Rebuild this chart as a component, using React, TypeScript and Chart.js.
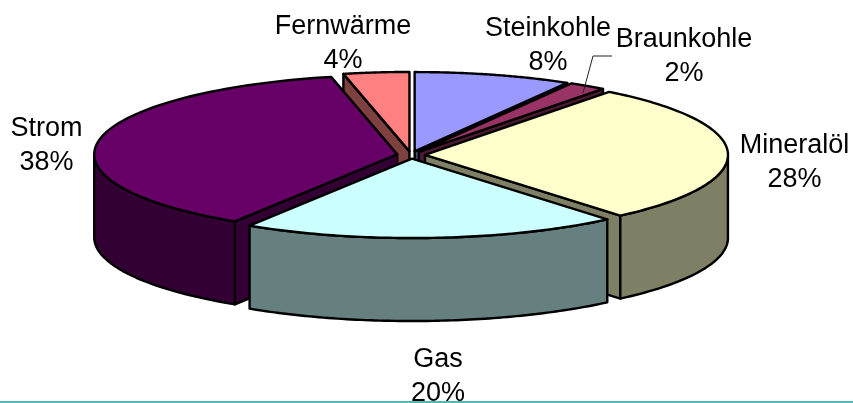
import React, { useEffect, useRef } from "react";
import { Chart, registerables } from "chart.js";

Chart.register(...registerables);

const categories = ["Steinkohle", "Braunkohle", "Mineralöl", "Gas", "Strom", "Fernwärme"];
const shares = [8.4, 2.0, 28.45, 20.15, 37.5, 3.5];
const topColors = ["#9999FF", "#993366", "#FFFFCC", "#CCFFFF", "#660066", "#FF8080"];
const wallColors = ["#4C4C7F", "#4C1933", "#7F7F66", "#667F7F", "#330033", "#7F4040"];
const labelCentersX = [548, 684, 794.5, 438, 46.5, 343];
const labelBaselinesY = [36, 47, 153, 367, 136, 34];

const EXPLODE = 14;
const SQUASH = 0.262;
const DEPTH = 83;
const CENTER_Y = 155;

const pie3d = {
  id: "pie3d",
  beforeDatasetDraw() {
    return false;
  },
  afterDatasetsDraw(chart: any) {
    const ctx: CanvasRenderingContext2D = chart.ctx;
    const arcs: any[] = chart.getDatasetMeta(0).data;
    const geo = arcs.map((a, i) => {
      const mid = (a.startAngle + a.endAngle) / 2;
      const ox = a.x + Math.cos(mid) * EXPLODE;
      const oy = CENTER_Y + Math.sin(mid) * EXPLODE * SQUASH;
      const pt = (ang: number, drop = 0): [number, number] => [
        ox + Math.cos(ang) * a.outerRadius,
        oy + Math.sin(ang) * a.outerRadius * SQUASH + drop,
      ];
      return { a, i, mid, ox, oy, pt };
    });
    const poly = (pts: [number, number][], fill: string | null, stroke = true) => {
      ctx.beginPath();
      pts.forEach((p, k) => (k ? ctx.lineTo(p[0], p[1]) : ctx.moveTo(p[0], p[1])));
      ctx.closePath();
      if (fill) {
        ctx.fillStyle = fill;
        ctx.fill();
      }
      if (stroke) ctx.stroke();
    };
    ctx.save();
    ctx.lineWidth = 2.4;
    ctx.strokeStyle = "#000";
    ctx.lineJoin = "round";

    // side walls, back to front
    [...geo]
      .sort((p, q) => Math.sin(p.mid) - Math.sin(q.mid))
      .forEach((g) => {
        const { a, i, ox, oy, pt } = g;
        const col = wallColors[i];
        const faces: [number, boolean][] = [
          [a.startAngle, Math.cos(a.startAngle) < 0],
          [a.endAngle, Math.cos(a.endAngle) > 0],
        ];
        for (const [ang, visible] of faces) {
          poly([[ox, oy], pt(ang), pt(ang, DEPTH), [ox, oy + DEPTH]], col, visible);
        }
        const steps = 80;
        const front: number[] = [];
        for (let s = 0; s <= steps; s++) {
          const t = a.startAngle + ((a.endAngle - a.startAngle) * s) / steps;
          if (Math.sin(t) >= 0) front.push(t);
        }
        if (front.length > 1) {
          const up = front.map((t) => pt(t));
          const down = front.map((t) => pt(t, DEPTH)).reverse();
          poly([...up, ...down], col);
        }
      });

    // top faces, drawn by the library's arc elements
    geo.forEach((g) => {
      ctx.save();
      ctx.translate(g.ox, g.oy);
      ctx.scale(1, SQUASH);
      ctx.translate(-g.a.x, -g.a.y);
      g.a.draw(ctx);
      ctx.restore();
    });

    // top outlines
    geo.forEach((g) => {
      const pts: [number, number][] = [[g.ox, g.oy]];
      const steps = 80;
      for (let s = 0; s <= steps; s++) {
        pts.push(g.pt(g.a.startAngle + ((g.a.endAngle - g.a.startAngle) * s) / steps));
      }
      poly(pts, null);
    });

    // labels
    ctx.fillStyle = "#000";
    ctx.font = '27px "Liberation Sans"';
    ctx.textAlign = "center";
    ctx.textBaseline = "alphabetic";
    categories.forEach((c, i) => {
      ctx.fillText(c, labelCentersX[i], labelBaselinesY[i]);
      ctx.fillText(`${Math.round(shares[i])}%`, labelCentersX[i], labelBaselinesY[i] + 34);
    });

    // leader line for Braunkohle
    ctx.lineWidth = 1;
    ctx.strokeStyle = "#222";
    ctx.beginPath();
    ctx.moveTo(612, 56);
    ctx.lineTo(593, 56);
    ctx.lineTo(583, 93);
    ctx.stroke();

    // teal rule at the bottom of the page
    ctx.strokeStyle = "#5BB5B5";
    ctx.lineWidth = 2;
    ctx.beginPath();
    ctx.moveTo(0, 402);
    ctx.lineTo(853, 402);
    ctx.stroke();
    ctx.restore();
  },
};

export default function App() {
  const ref = useRef<HTMLCanvasElement>(null);
  useEffect(() => {
    const chart = new Chart(ref.current as HTMLCanvasElement, {
      type: "pie",
      data: {
        labels: categories,
        datasets: [
          {
            data: shares,
            backgroundColor: topColors,
            borderWidth: 0,
            clip: false,
          } as any,
        ],
      },
      options: {
        responsive: false,
        animation: false,
        radius: 303,
        layout: { padding: { right: 31 } },
        plugins: { legend: { display: false }, tooltip: { enabled: false } },
      } as any,
      plugins: [pie3d as any],
    });
    return () => chart.destroy();
  }, []);
  return (
    <div style={{ position: "absolute", left: 0, top: 0, width: 853, height: 403, background: "#fff" }}>
      <canvas ref={ref} width={853} height={403} style={{ display: "block" }} />
    </div>
  );
}
